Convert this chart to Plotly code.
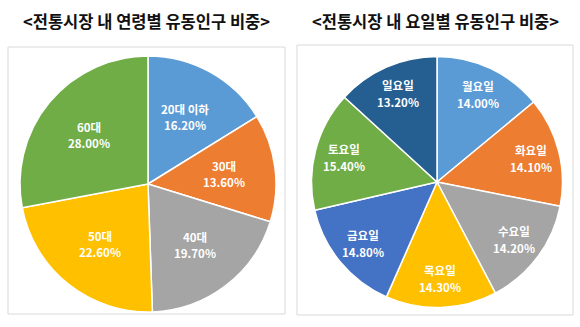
import math
import plotly.graph_objects as go

W, H = 580, 327

age_labels = ["20대 이하", "30대", "40대", "50대", "60대"]
age_values = [16.2, 13.6, 19.7, 22.6, 28.0]
age_colors = ["#5B9BD5", "#ED7D31", "#A5A5A5", "#FFC000", "#70AD47"]

day_labels = ["월요일", "화요일", "수요일", "목요일", "금요일", "토요일", "일요일"]
day_values = [14.0, 14.1, 14.2, 14.3, 14.8, 15.4, 13.2]
day_colors = ["#5B9BD5", "#ED7D31", "#A5A5A5", "#FFC000", "#4472C4", "#70AD47", "#255E91"]

title_left = "<전통시장 내 연령별 유동인구 비중>"
title_right = "<전통시장 내 요일별 유동인구 비중>"

FONT = "Noto Sans CJK KR"

def px(x0, x1):
    return [x0 / W, x1 / W]

def py(y0, y1):
    return [1 - y1 / H, 1 - y0 / H]

fig = go.Figure()

# pie geometry in pixels: center x, center y, radius, label radius fraction, half line gap
pies = [
    dict(labels=age_labels, values=age_values, colors=age_colors,
         cx=148, cy=184, r=128, frac=0.60, gap=8.0),
    dict(labels=day_labels, values=day_values, colors=day_colors,
         cx=437, cy=182, r=125.5, frac=0.77, gap=8.5),
]

annotations = []
for p in pies:
    cx, cy, r = p["cx"], p["cy"], p["r"]
    fig.add_trace(go.Pie(
        labels=p["labels"], values=p["values"],
        marker=dict(colors=p["colors"], line=dict(color="white", width=1.5)),
        domain=dict(x=px(cx - r, cx + r), y=py(cy - r, cy + r)),
        sort=False, direction="clockwise", rotation=0,
        textinfo="none", hoverinfo="label+value", showlegend=False,
    ))
    total = sum(p["values"])
    cum = 0.0
    for lab, val in zip(p["labels"], p["values"]):
        mid = (cum + val / 2) / total * 2 * math.pi
        cum += val
        lx = cx + p["frac"] * r * math.sin(mid)
        ly = cy - p["frac"] * r * math.cos(mid)
        for txt, yy in ((lab, ly - p["gap"]), (f"{val:.2f}%", ly + p["gap"])):
            annotations.append(dict(
                text=txt, x=lx / W, y=1 - yy / H, xref="paper", yref="paper",
                showarrow=False, xanchor="center", yanchor="middle",
                font=dict(family=FONT, size=11.5, color="white", weight="bold"),
            ))

shapes = [
    dict(type="rect", xref="paper", yref="paper",
         x0=8 / W, x1=285 / W, y0=1 - 314 / H, y1=1 - 47 / H,
         line=dict(color="#D9D9D9", width=1), fillcolor="rgba(0,0,0,0)", layer="below"),
    dict(type="rect", xref="paper", yref="paper",
         x0=297 / W, x1=573 / W, y0=1 - 315 / H, y1=1 - 45 / H,
         line=dict(color="#D9D9D9", width=1), fillcolor="rgba(0,0,0,0)", layer="below"),
]

annotations += [
    dict(text=title_left, x=146 / W, y=1 - 21 / H, xref="paper", yref="paper",
         showarrow=False, xanchor="center", yanchor="middle",
         font=dict(family=FONT, size=16.5, color="#111111", weight="bold")),
    dict(text=title_right, x=436 / W, y=1 - 21 / H, xref="paper", yref="paper",
         showarrow=False, xanchor="center", yanchor="middle",
         font=dict(family=FONT, size=16.5, color="#111111", weight="bold")),
]

fig.update_layout(
    width=W, height=H,
    margin=dict(l=0, r=0, t=0, b=0),
    paper_bgcolor="white",
    plot_bgcolor="white",
    shapes=shapes,
    annotations=annotations,
    font=dict(family=FONT),
)

fig.write_html("out.html", config={"displayModeBar": False})
